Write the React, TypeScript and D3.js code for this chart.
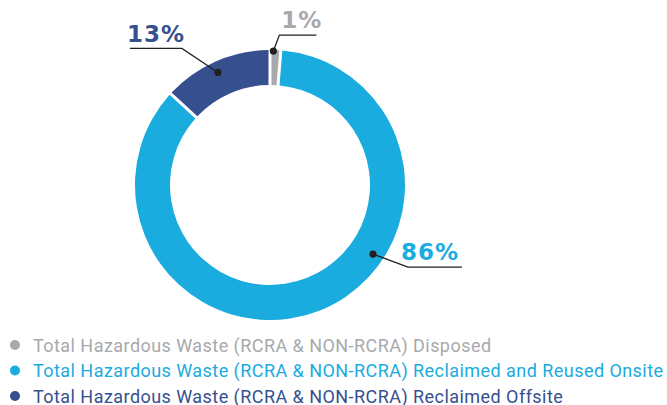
import { useEffect, useRef } from 'react';
import * as d3 from 'd3';

// Datos del gráfico
const categories = [
  'Total Hazardous Waste (RCRA & NON-RCRA) Disposed',
  'Total Hazardous Waste (RCRA & NON-RCRA) Reclaimed and Reused Onsite',
  'Total Hazardous Waste (RCRA & NON-RCRA) Reclaimed Offsite',
];
const values = [1, 86, 13];
const pctLabels = ['1%', '86%', '13%'];
const colors = ['#a7a9ac', '#1aabdf', '#364f8f'];

const App = () => {
  const svgRef = useRef<SVGSVGElement | null>(null);

  useEffect(() => {
    if (!svgRef.current) return;
    const svg = d3.select(svgRef.current);
    svg.selectAll('*').remove();

    const cx = 270, cy = 185;
    const outerR = 135, innerR = 100;

    const pie = d3.pie<number>().sort(null).value(d => d).padAngle(0.018);
    const arcs = pie(values);
    const arc = d3.arc<d3.PieArcDatum<number>>().innerRadius(innerR).outerRadius(outerR);

    const g = svg.append('g').attr('transform', `translate(${cx},${cy})`);
    g.selectAll('path.slice').data(arcs).enter().append('path')
      .attr('class', 'slice')
      .attr('d', arc)
      .attr('fill', (_, i) => colors[i]);

    // Etiquetas con líneas guía (ángulo como fracción del círculo)
    const anchors = [
      { a: 0.004, r: 134, elbow: [6, -16], end: [43, -16], text: [8, -23] },
      { a: 0.344, r: 124, elbow: [35, 13], end: [89, 13], text: [28, 6] },
      { a: 0.931, r: 124, elbow: [-36, -24], end: [-88, -24], text: [-91, -30] },
    ];

    anchors.forEach((an, i) => {
      const [px, py] = d3.pointRadial(an.a * 2 * Math.PI, an.r);
      const line = d3.line();
      g.append('path')
        .attr('d', line([[px, py], [px + an.elbow[0], py + an.elbow[1]], [px + an.end[0], py + an.end[1]]]))
        .attr('fill', 'none')
        .attr('stroke', '#231f20')
        .attr('stroke-width', 1.3);
      g.append('circle').attr('cx', px).attr('cy', py).attr('r', 3.6).attr('fill', '#231f20');
      g.append('text')
        .attr('x', px + an.text[0])
        .attr('y', py + an.text[1])
        .attr('fill', colors[i])
        .attr('font-family', 'DejaVu Sans')
        .attr('font-weight', 'bold')
        .attr('font-size', 23)
        .attr('letter-spacing', 1)
        .text(pctLabels[i]);
    });

    // Leyenda
    const y = d3.scalePoint<number>().domain(d3.range(categories.length)).range([345, 396]);
    const leg = svg.append('g');
    categories.forEach((c, i) => {
      leg.append('circle').attr('cx', 15).attr('cy', y(i)!).attr('r', 5).attr('fill', colors[i]);
      leg.append('text')
        .attr('x', 33)
        .attr('y', y(i)! + 6.5)
        .attr('fill', colors[i])
        .attr('font-family', 'Roboto')
        .attr('font-size', 18)
        .attr('letter-spacing', 0.45)
        .text(c);
    });
  }, []);

  return <svg ref={svgRef} width={667} height={405} style={{ display: 'block', position: 'absolute', left: 0, top: 0 }} />;
};

export default App;
